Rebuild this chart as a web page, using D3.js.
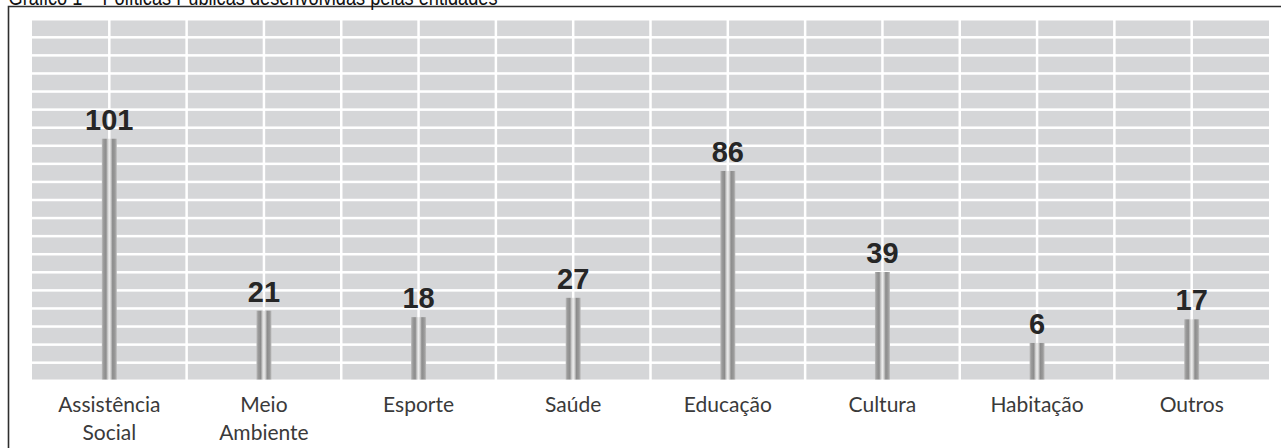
<!DOCTYPE html>
<html>
<head>
<meta charset="utf-8">
<script src="https://cdn.jsdelivr.net/npm/d3@7"></script>
<style>
  html, body { margin: 0; padding: 0; background: #fff; }
  svg { display: block; }
</style>
</head>
<body>
<svg id="chart" width="1281" height="448"></svg>
<script>
// ---- data ----
const title = "Gráfico 1 – Políticas Públicas desenvolvidas pelas entidades";
const categories = ["Assistência Social", "Meio Ambiente", "Esporte", "Saúde", "Educação", "Cultura", "Habitação", "Outros"];
const categoryLines = [["Assistência", "Social"], ["Meio", "Ambiente"], ["Esporte"], ["Saúde"], ["Educação"], ["Cultura"], ["Habitação"], ["Outros"]];
const values = [101, 21, 18, 27, 86, 39, 6, 17];
const valueDomain = [-11, 156];

// ---- layout ----
const W = 1281, H = 448;
const plot = { left: 32, right: 1269, top: 20.5, bottom: 379.5 };
const rowCount = 20;
const barWidth = 15;

const svg = d3.select("#chart");

const x = d3.scaleBand().domain(categories).range([plot.left, plot.right]).padding(0);
const y = d3.scaleLinear().domain(valueDomain).range([plot.bottom, plot.top]);
const rows = d3.scaleBand().domain(d3.range(rowCount)).range([plot.top, plot.bottom]).paddingInner(0.14);

// gradient for cylinder-like bars
const defs = svg.append("defs");
const grad = defs.append("linearGradient").attr("id", "barGrad")
  .attr("x1", "0%").attr("x2", "100%").attr("y1", "0%").attr("y2", "0%");
[[0, "#bdbdbd"], [0.12, "#9a9a9a"], [0.28, "#8c8c8c"], [0.40, "#cfcfcf"], [0.5, "#ededed"],
 [0.60, "#cfcfcf"], [0.72, "#8c8c8c"], [0.88, "#9a9a9a"], [1, "#bdbdbd"]]
  .forEach(([o, c]) => grad.append("stop").attr("offset", o).attr("stop-color", c));

// grid cells: two half-cells per category per row
const halves = [];
categories.forEach(c => {
  const bw = x.bandwidth();
  halves.push({ x0: x(c), x1: x(c) + bw / 2 });
  halves.push({ x0: x(c) + bw / 2, x1: x(c) + bw });
});
const gap = 2.5;
const cells = [];
halves.forEach((h, i) => rows.domain().forEach(r => cells.push({ h, r, i })));

svg.append("g").selectAll("rect").data(cells).join("rect")
  .attr("x", d => d.h.x0 + (d.i === 0 ? 0 : gap / 2))
  .attr("width", d => (d.h.x1 - d.h.x0) - (d.i === 0 ? gap / 2 : gap) + (d.i === halves.length - 1 ? gap / 2 : 0))
  .attr("y", d => rows(d.r))
  .attr("height", rows.bandwidth())
  .attr("fill", "#d5d6d8");

// bars
const y0 = y(valueDomain[0]);
svg.append("g").selectAll("rect").data(categories).join("rect")
  .attr("x", (c) => x(c) + x.bandwidth() / 2 - barWidth / 2)
  .attr("width", barWidth)
  .attr("y", (c, i) => y(values[i]))
  .attr("height", (c, i) => y0 - y(values[i]))
  .attr("fill", "url(#barGrad)");

// value labels
svg.append("g").selectAll("text").data(categories).join("text")
  .attr("x", c => x(c) + x.bandwidth() / 2)
  .attr("y", (c, i) => y(values[i]) - 9)
  .attr("text-anchor", "middle")
  .attr("font-family", "'Liberation Sans', Arial, sans-serif")
  .attr("font-weight", "bold")
  .attr("font-size", 29)
  .attr("fill", "#262626")
  .text((c, i) => values[i]);

// category labels
const lab = svg.append("g").selectAll("text").data(categories).join("text")
  .attr("x", c => x(c) + x.bandwidth() / 2)
  .attr("y", 412)
  .attr("text-anchor", "middle")
  .attr("font-family", "Lato, 'Open Sans', sans-serif")
  .attr("font-size", 21)
  .attr("fill", "#3a3a3a");
lab.each(function (c, i) {
  d3.select(this).selectAll("tspan").data(categoryLines[i]).join("tspan")
    .attr("x", x(c) + x.bandwidth() / 2)
    .attr("dy", (d, j) => j === 0 ? 0 : 28)
    .text(d => d);
});

// frame (top line doubles as title underline) and title
svg.append("path")
  .attr("d", `M8.5,${H} V6.5 H${W}`)
  .attr("fill", "none").attr("stroke", "#2e2e2e").attr("stroke-width", 1.6);

const t = svg.append("text")
  .attr("x", 8.5).attr("y", 4.5)
  .attr("font-family", "'Liberation Sans Narrow', 'Arial Narrow', 'Liberation Sans', Arial, sans-serif")
  .attr("font-size", 22)
  .attr("fill", "#111")
  .text(title);
const targetW = 489;
const tw = t.node().getComputedTextLength();
if (Math.abs(tw - targetW) > 4) {
  t.attr("textLength", targetW).attr("lengthAdjust", "spacingAndGlyphs");
}
</script>
</body>
</html>
